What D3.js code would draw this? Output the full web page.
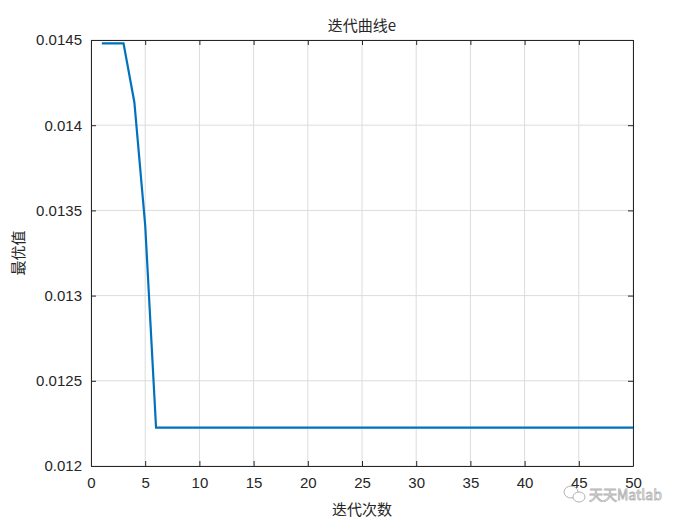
<!DOCTYPE html>
<html>
<head>
<meta charset="utf-8">
<script src="https://cdn.jsdelivr.net/npm/d3@7"></script>
<style>
  body { margin: 0; background: #fff; }
  text { font-family: "Liberation Sans", Arial, sans-serif; }
</style>
</head>
<body>
<div id="chart"></div>
<script>
// iteration curve data
const iterations = d3.range(1, 51);
const bestValues = [0.01448, 0.01448, 0.01448, 0.014135, 0.013413]
  .concat(Array(45).fill(0.012225));
const xTicks = [0, 5, 10, 15, 20, 25, 30, 35, 40, 45, 50];
const yTicks = [0.012, 0.0125, 0.013, 0.0135, 0.014, 0.0145];

const width = 700, height = 525;
const margin = { top: 40, right: 67, bottom: 59, left: 91 };
const cjk = '"Noto Sans CJK SC", sans-serif';

const svg = d3.select("#chart").append("svg")
  .attr("width", width)
  .attr("height", height);

const x = d3.scaleLinear().domain([0, 50]).range([margin.left, width - margin.right]);
const y = d3.scaleLinear().domain([0.012, 0.0145]).range([height - margin.bottom, margin.top]);

// grid
svg.append("g").selectAll("line.gx")
  .data(xTicks)
  .enter().append("line")
  .attr("x1", d => x(d)).attr("x2", d => x(d))
  .attr("y1", y.range()[0]).attr("y2", y.range()[1])
  .attr("stroke", "#dcdcdc").attr("stroke-width", 1);
svg.append("g").selectAll("line.gy")
  .data(yTicks)
  .enter().append("line")
  .attr("y1", d => y(d)).attr("y2", d => y(d))
  .attr("x1", x.range()[0]).attr("x2", x.range()[1])
  .attr("stroke", "#dcdcdc").attr("stroke-width", 1);

// axes (ticks inward)
const axisStyle = g => {
  g.select(".domain").attr("stroke", "#262626");
  g.selectAll(".tick line").attr("stroke", "#262626");
  g.selectAll(".tick text").attr("fill", "#262626").style("font-size", "15px");
};
svg.append("g")
  .attr("transform", `translate(0,${y.range()[0]})`)
  .call(d3.axisBottom(x).tickValues(xTicks).tickSizeInner(-5).tickSizeOuter(0).tickPadding(11))
  .call(axisStyle);
svg.append("g")
  .attr("transform", `translate(${x.range()[0]},0)`)
  .call(d3.axisLeft(y).tickValues(yTicks).tickFormat(d => String(+d.toFixed(4))).tickSizeInner(-5).tickSizeOuter(0).tickPadding(9))
  .call(axisStyle);
svg.append("g")
  .attr("transform", `translate(0,${y.range()[1]})`)
  .call(d3.axisTop(x).tickValues(xTicks).tickSizeInner(-5).tickSizeOuter(0).tickFormat(""))
  .call(axisStyle);
svg.append("g")
  .attr("transform", `translate(${x.range()[1]},0)`)
  .call(d3.axisRight(y).tickValues(yTicks).tickSizeInner(-5).tickSizeOuter(0).tickFormat(""))
  .call(axisStyle);

// line
const line = d3.line()
  .x((d, i) => x(iterations[i]))
  .y(d => y(d));
svg.append("path")
  .datum(bestValues)
  .attr("fill", "none")
  .attr("stroke", "#0072BD")
  .attr("stroke-width", 2.2)
  .attr("d", line);

// labels
svg.append("text")
  .attr("x", (x.range()[0] + x.range()[1]) / 2)
  .attr("y", 31)
  .attr("text-anchor", "middle")
  .style("font-family", cjk)
  .style("font-size", "15px")
  .attr("fill", "#262626")
  .text("迭代曲线e");
svg.append("text")
  .attr("x", (x.range()[0] + x.range()[1]) / 2)
  .attr("y", 515)
  .attr("text-anchor", "middle")
  .style("font-family", cjk)
  .style("font-size", "15px")
  .attr("fill", "#262626")
  .text("迭代次数");
svg.append("text")
  .attr("transform", `translate(24,${(y.range()[0] + y.range()[1]) / 2}) rotate(-90)`)
  .attr("text-anchor", "middle")
  .style("font-family", cjk)
  .style("font-size", "15px")
  .attr("fill", "#262626")
  .text("最优值");

// watermark
const wm = svg.append("g").attr("opacity", 0.75);
wm.append("ellipse").attr("cx", 571).attr("cy", 492).attr("rx", 7).attr("ry", 6)
  .attr("fill", "none").attr("stroke", "#9a9a9a").attr("stroke-width", 1);
wm.append("ellipse").attr("cx", 579).attr("cy", 497).attr("rx", 6).attr("ry", 5)
  .attr("fill", "#fff").attr("stroke", "#9a9a9a").attr("stroke-width", 1);
wm.append("text")
  .attr("x", 589).attr("y", 500)
  .style("font-family", cjk)
  .style("font-size", "14px")
  .attr("fill", "#fff")
  .attr("stroke", "#9a9a9a")
  .attr("stroke-width", 0.8)
  .text("天天Matlab");
</script>
</body>
</html>
